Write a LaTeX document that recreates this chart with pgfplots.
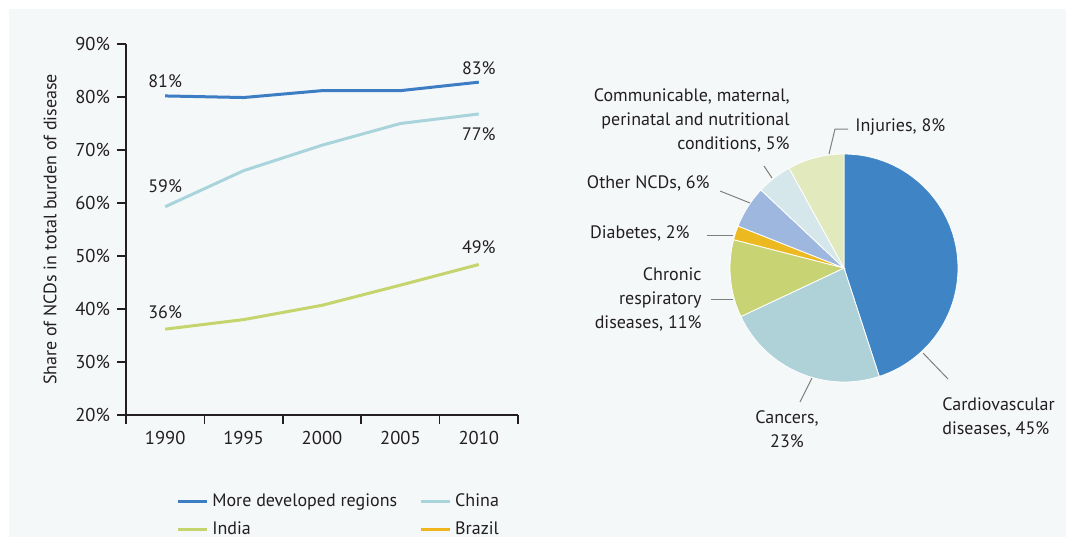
\documentclass[border=0pt]{standalone}
\usepackage{pgfplots}
\pgfplotsset{compat=1.18}
\usepackage{pgfplotstable}
\usepackage{fontspec}
\setmainfont{PT Sans}

\definecolor{panel}{HTML}{F5F8F9}
\definecolor{ink}{HTML}{231F20}
\definecolor{devblue}{HTML}{3D7DC3}
\definecolor{china}{HTML}{A9D4DB}
\definecolor{india}{HTML}{C5D46C}
\definecolor{brazil}{HTML}{F0B41C}
\definecolor{leader}{HTML}{7F7F7F}
% pie slices, in the order of the table below
\definecolor{pie0}{HTML}{3F84C5}
\definecolor{pie1}{HTML}{AED2D8}
\definecolor{pie2}{HTML}{C8D474}
\definecolor{pie3}{HTML}{EDB921}
\definecolor{pie4}{HTML}{9DB7DF}
\definecolor{pie5}{HTML}{D6E7EB}
\definecolor{pie6}{HTML}{E2E9BD}

% share of NCDs in total burden of disease (%)
\pgfplotstableread{
x   dev   china india
0.5 80.2  59.3  36.2
1.5 79.9  66.1  38.0
2.5 81.2  70.9  40.7
3.5 81.2  75.0  44.5
4.5 82.8  76.8  48.4
}\linedata

% causes of burden, clockwise from the top
\pgfplotstableread{
share
45
23
11
2
6
5
8
}\piedata

\begin{document}
\begin{tikzpicture}[x=0.5pt,y=0.5pt,font=\fontsize{9}{11}\selectfont,text=ink]
\useasboundingbox (0,0) rectangle (1066,537);
\fill[panel] (9,0) rectangle (1066,528);
\coordinate (lineSW) at (126,122);
\coordinate (pieC) at (844,269);

\begin{axis}[
    at={(lineSW)}, anchor=south west,
    scale only axis, width=196pt, height=185.5pt,
    xmin=0, xmax=5, ymin=20, ymax=90,
    axis lines*=left,
    axis line style={ink, line width=0.8pt, -},
    tick style={ink, line width=0.8pt},
    tick align=outside,
    major tick length=4.5pt,
    xtick={0,...,5},
    xticklabels={1990,1995,2000,2005,2010,},
    x tick label as interval,
    ytick={20,30,...,90},
    yticklabel={\pgfmathprintnumber{\tick}\%},
    /pgf/number format/assume math mode=true,
    tick label style={font=\fontsize{9.3}{11}\selectfont, text=ink},
    ylabel={Share of NCDs in total burden of disease},
    ylabel style={at={(axis description cs:-0.194,0.5)}, anchor=center,
        font=\fontsize{9}{11}\selectfont, text=ink},
    clip=false,
    legend columns=2,
    legend cell align=left,
    legend style={at={(axis description cs:0.112,-0.19)}, anchor=north west,
        draw=none, fill=none, row sep=2pt,
        font=\fontsize{9}{11}\selectfont, text=ink,
        /tikz/every even column/.append style={column sep=9pt}},
    legend image code/.code={\draw[#1] (0pt,0pt) -- (14.5pt,0pt);},
    every axis plot/.append style={line width=1.5pt},
]
\addplot[devblue] table[x=x,y=dev] {\linedata};
\addlegendentry{More developed regions}
\addplot[china] table[x=x,y=china] {\linedata};
\addlegendentry{China}
\addplot[india] table[x=x,y=india] {\linedata};
\addlegendentry{India}
\addlegendimage{brazil, line width=1.5pt}
\addlegendentry{Brazil}

\node at (axis cs:0.5,83.0) {81\%};
\node at (axis cs:4.5,85.5) {83\%};
\node at (axis cs:0.5,63.2) {59\%};
\node at (axis cs:4.5,73.0) {77\%};
\node at (axis cs:4.5,51.7) {49\%};
\node at (axis cs:0.5,39.4) {36\%};
\end{axis}

\begin{axis}[
    at={(pieC)}, anchor=center,
    scale only axis, width=114pt, height=114pt,
    xmin=-1, xmax=1, ymin=-1, ymax=1,
    hide axis, clip=false,
]
\pgfplotstablegetrowsof{\piedata}
\pgfmathtruncatemacro\lastrow{\pgfplotsretval-1}
\gdef\curang{90}
\pgfplotsforeachungrouped \i in {0,...,\lastrow}{%
  \pgfplotstablegetelem{\i}{share}\of\piedata
  \pgfmathsetmacro\nextang{\curang-3.6*\pgfplotsretval}
  \pgfmathsetmacro\cx{cos(\curang)}
  \pgfmathsetmacro\cy{sin(\curang)}
  \edef\mywedge{\noexpand\fill[pie\i, draw=white, line width=0.4pt]
    (axis cs:0,0) -- (axis cs:\cx,\cy)
    arc[start angle=\curang, end angle=\nextang, radius=57pt] -- cycle;}
  \mywedge
  \xdef\curang{\nextang}
}
\end{axis}

% pie labels and leader lines
\begin{scope}[every node/.style={inner sep=0pt, font=\fontsize{9}{12}\selectfont}]
\draw[leader, line width=0.5pt] (829,383) -- (835,408) -- (848,408);
\draw[leader, line width=0.5pt] (764,371) -- (772,359);
\draw[leader, line width=0.5pt] (720,346) -- (750,334);
\draw[leader, line width=0.5pt] (707,302) -- (733,302);
\draw[leader, line width=0.5pt] (711,238) -- (733,238);
\draw[leader, line width=0.5pt] (800,135) -- (812,159);
\draw[leader, line width=0.5pt] (923,184) -- (948,158);
\node[anchor=east, align=right] at (790,417) {Communicable, maternal,\\perinatal and nutritional\\conditions, 5\%};
\node[anchor=west] at (855,410) {Injuries, 8\%};
\node[anchor=east] at (710,354) {Other NCDs, 6\%};
\node[anchor=east] at (690,304) {Diabetes, 2\%};
\node[anchor=east, align=right] at (702,238) {Chronic\\respiratory\\diseases, 11\%};
\node[align=center] at (787,108) {Cancers,\\23\%};
\node[anchor=west, align=left] at (942,120) {Cardiovascular\\diseases, 45\%};
\end{scope}
\end{tikzpicture}
\end{document}
